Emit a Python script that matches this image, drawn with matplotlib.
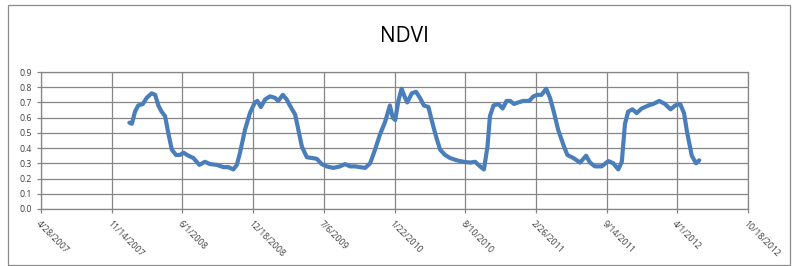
import matplotlib
matplotlib.use("Agg")
import matplotlib.pyplot as plt
import matplotlib.patches as patches
import pandas as pd

# Datos (dias desde 4/28/2007, valor NDVI)
start = "2007-04-28"
days = [250, 257, 266, 275, 288, 299, 313, 323, 332, 341, 351, 360, 370, 382,
        393, 403, 417, 431, 448, 464, 478, 497, 516, 530, 544, 554, 563, 577,
        591, 605, 612, 622, 634, 648, 662, 671, 684, 695, 704, 719, 728, 738,
        752, 766, 780, 794, 808, 827, 846, 860, 874, 888, 902, 917, 931, 945,
        959, 973, 987, 995, 1002, 1011, 1020, 1030, 1036, 1049, 1061, 1072,
        1083, 1096, 1105, 1117, 1129, 1143, 1157, 1176, 1195, 1214, 1228,
        1242, 1253, 1263, 1270, 1280, 1294, 1306, 1317, 1327, 1338, 1350,
        1364, 1381, 1393, 1404, 1416, 1429, 1440, 1451, 1463, 1478, 1489,
        1506, 1525, 1542, 1553, 1567, 1586, 1605, 1619, 1633, 1643, 1652,
        1661, 1673, 1685, 1699, 1718, 1732, 1749, 1765, 1781, 1794, 1808,
        1819, 1828, 1841, 1853, 1862]
ndvi = [0.567, 0.56, 0.64, 0.68, 0.69, 0.73, 0.76, 0.75, 0.68, 0.64, 0.61,
        0.50, 0.39, 0.355, 0.355, 0.37, 0.35, 0.335, 0.29, 0.31, 0.295, 0.29,
        0.275, 0.275, 0.26, 0.29, 0.37, 0.52, 0.63, 0.70, 0.71, 0.67, 0.72,
        0.74, 0.73, 0.71, 0.75, 0.72, 0.68, 0.62, 0.52, 0.41, 0.34, 0.335,
        0.33, 0.295, 0.28, 0.27, 0.28, 0.295, 0.28, 0.28, 0.275, 0.27, 0.30,
        0.39, 0.49, 0.57, 0.68, 0.60, 0.585, 0.71, 0.79, 0.73, 0.70, 0.76,
        0.77, 0.73, 0.68, 0.67, 0.585, 0.48, 0.39, 0.355, 0.335, 0.32, 0.31,
        0.305, 0.31, 0.28, 0.26, 0.41, 0.61, 0.68, 0.69, 0.66, 0.71, 0.71,
        0.69, 0.70, 0.71, 0.71, 0.74, 0.75, 0.75, 0.79, 0.73, 0.635, 0.52,
        0.42, 0.355, 0.335, 0.305, 0.35, 0.305, 0.28, 0.28, 0.315, 0.30,
        0.26, 0.31, 0.56, 0.64, 0.655, 0.63, 0.66, 0.68, 0.69, 0.71, 0.69,
        0.655, 0.68, 0.69, 0.63, 0.50, 0.35, 0.30, 0.32]

tick_labels = ["4/28/2007", "11/14/2007", "6/1/2008", "12/18/2008", "7/6/2009",
               "1/22/2010", "8/10/2010", "2/26/2011", "9/14/2011", "4/1/2012",
               "10/18/2012"]
y_ticks = [0.0, 0.1, 0.2, 0.3, 0.4, 0.5, 0.6, 0.7, 0.8, 0.9]

fechas = pd.Timestamp(start) + pd.to_timedelta(days, unit="D")
tick_fechas = pd.to_datetime(tick_labels, format="%m/%d/%Y")

plt.rcParams['font.family'] = ['Open Sans', 'DejaVu Sans']

fig = plt.figure(figsize=(7.97, 2.66), dpi=100)
ax = fig.add_axes([41 / 797, 1 - 209 / 266, 707 / 797, 137 / 266])

gris = '#868686'
ax.plot(fechas, ndvi, color='#4a7ebb', lw=3.0, solid_joinstyle='round',
        solid_capstyle='round')

ax.set_xlim(tick_fechas[0], tick_fechas[-1])
ax.set_ylim(0, 0.9)
ax.set_xticks(tick_fechas)
ax.set_xticklabels(tick_labels, rotation=-45, ha='left', va='top',
                   rotation_mode='anchor', fontsize=6.3, color='#404040')
ax.set_yticks(y_ticks)
ax.set_yticklabels(["%.1f" % v for v in y_ticks], fontsize=6.3, color='#404040')
ax.grid(True, color=gris, lw=0.9)
ax.set_axisbelow(True)
for s in ax.spines.values():
    s.set_color(gris)
    s.set_linewidth(0.9)
ax.tick_params(axis='both', colors=gris, length=3, width=0.9, labelcolor='#404040')
ax.tick_params(axis='x', pad=4)

fig.text(0.508, 1 - 36 / 266, "NDVI", ha='center', va='center', fontsize=15,
         color='black')

# Borde del area del grafico
borde = patches.Rectangle((8 / 797, 1 / 266), 782 / 797, 260 / 266,
                          transform=fig.transFigure, fill=False,
                          edgecolor='#8c8c8c', lw=0.9)
fig.patches.append(borde)

fig.savefig("out.png", dpi=100)
